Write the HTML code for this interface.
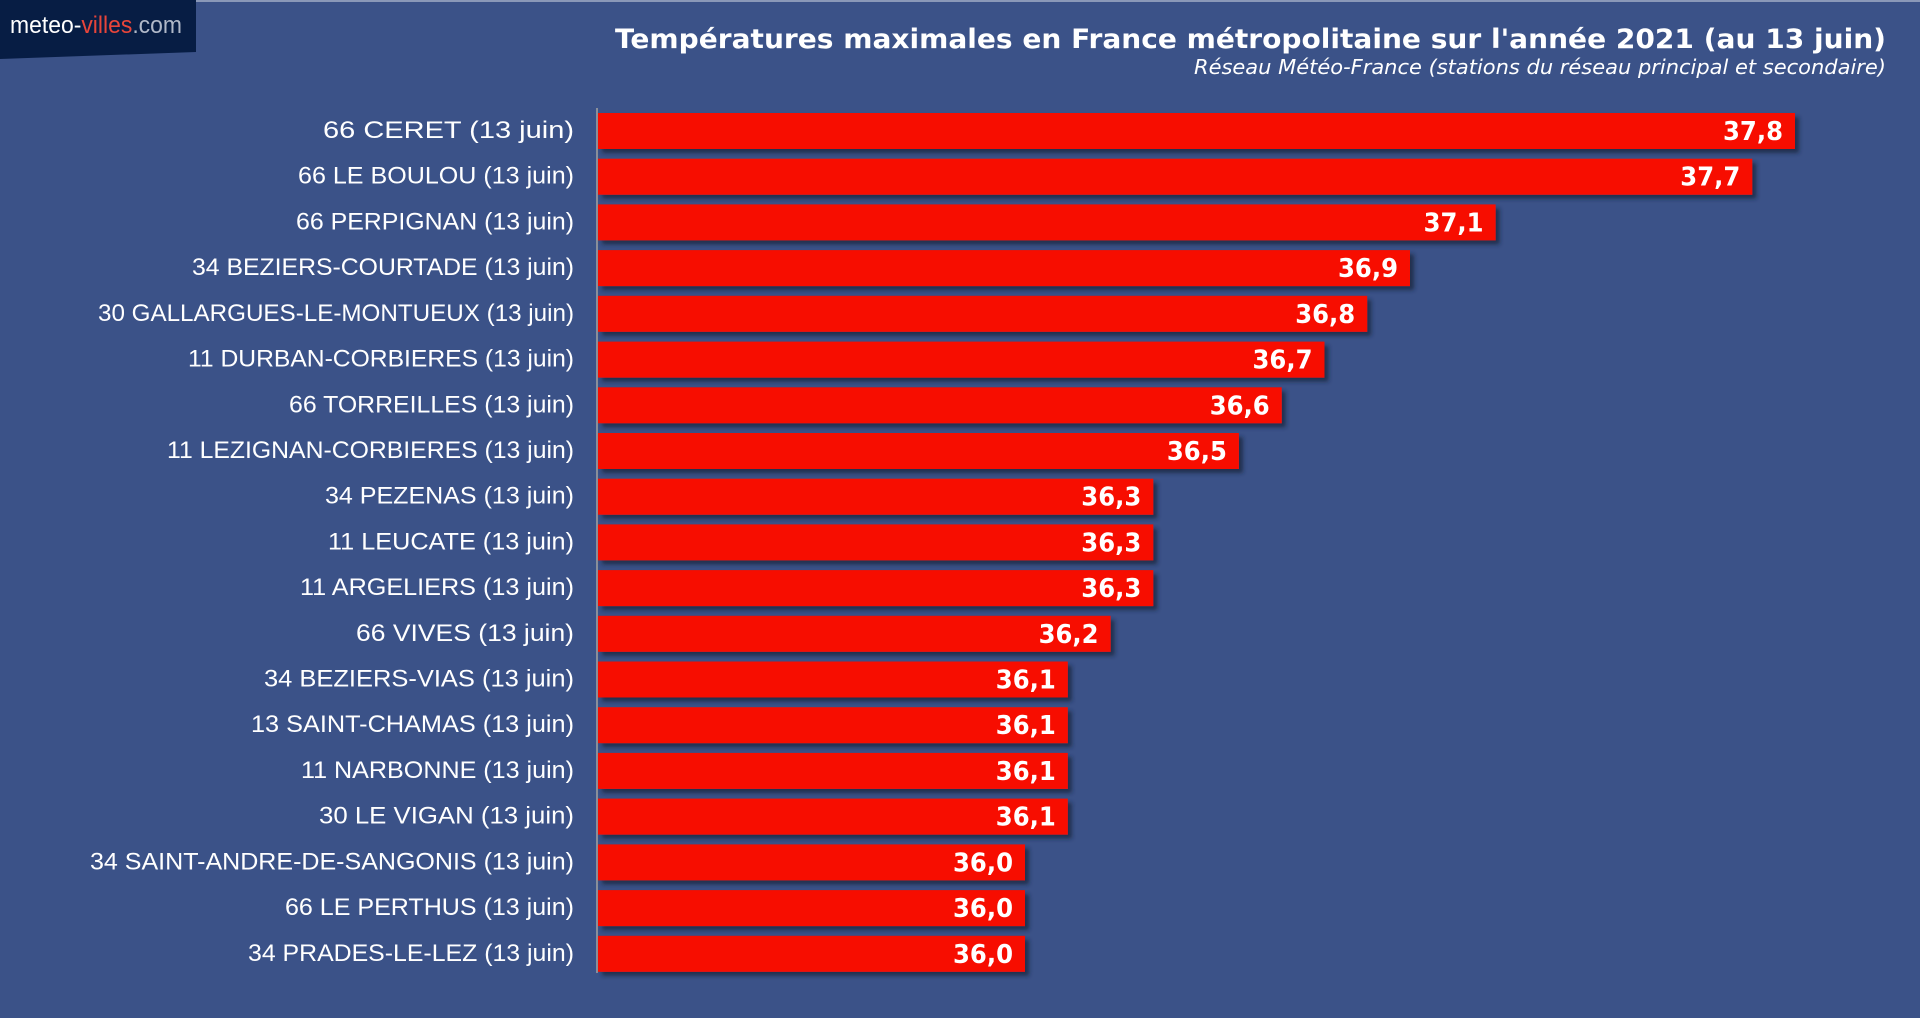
<!DOCTYPE html>
<html><head><meta charset="utf-8"><style>
html,body{margin:0;padding:0;background:#3b5288;}
svg{display:block}
</style></head><body>
<svg width="1920" height="1018" xmlns="http://www.w3.org/2000/svg">
<defs>
<filter id="sh" x="-5%" y="-20%" width="115%" height="160%"><feDropShadow dx="4" dy="4" stdDeviation="2" flood-color="#1a2540" flood-opacity="0.8"/></filter>
</defs>
<rect x="0" y="0" width="1920" height="1018" fill="#3b5288"/>
<rect x="0" y="0" width="1920" height="2" fill="#8a98b8"/>
<polygon points="0,0 196,0 196,52 0,59" fill="#071d44"/>
<text x="10" y="33" font-family="'Liberation Sans',sans-serif" font-size="24" fill="#ffffff" textLength="172" lengthAdjust="spacingAndGlyphs">meteo-<tspan fill="#e8453a">villes</tspan><tspan fill="#b0b8c8">.com</tspan></text>
<text x="1886" y="48" text-anchor="end" font-family="'DejaVu Sans',sans-serif" font-weight="bold" font-size="27" fill="#fff" textLength="1271" lengthAdjust="spacingAndGlyphs">Températures maximales en France métropolitaine sur l'année 2021 (au 13 juin)</text>
<text x="1886" y="74" text-anchor="end" font-family="'DejaVu Sans',sans-serif" font-style="italic" font-size="20" fill="#fff" textLength="692" lengthAdjust="spacingAndGlyphs">Réseau Météo-France (stations du réseau principal et secondaire)</text>
<rect x="596" y="108" width="2" height="865" fill="#8a8f9a"/>
<g id="bars" font-family="'Liberation Sans',sans-serif" fill="#fff"></g>
</svg>
<script>
var d=[["66 CERET (13 juin)",37.8,251],["66 LE BOULOU (13 juin)",37.7,276],["66 PERPIGNAN (13 juin)",37.1,278],["34 BEZIERS-COURTADE (13 juin)",36.9,382],["30 GALLARGUES-LE-MONTUEUX (13 juin)",36.8,476],["11 DURBAN-CORBIERES (13 juin)",36.7,386],["66 TORREILLES (13 juin)",36.6,285],["11 LEZIGNAN-CORBIERES (13 juin)",36.5,407],["34 PEZENAS (13 juin)",36.3,249],["11 LEUCATE (13 juin)",36.3,246],["11 ARGELIERS (13 juin)",36.3,274],["66 VIVES (13 juin)",36.2,218],["34 BEZIERS-VIAS (13 juin)",36.1,310],["13 SAINT-CHAMAS (13 juin)",36.1,323],["11 NARBONNE (13 juin)",36.1,273],["30 LE VIGAN (13 juin)",36.1,255],["34 SAINT-ANDRE-DE-SANGONIS (13 juin)",36.0,484],["66 LE PERTHUS (13 juin)",36.0,289],["34 PRADES-LE-LEZ (13 juin)",36.0,326]];
var s="";
d.forEach(function(r,i){var t=113+i*45.71;var e=1025+(r[1]-36)*427.8;
s+='<rect x="598" y="'+t.toFixed(1)+'" width="'+(e-598).toFixed(1)+'" height="36" fill="#f70f00" filter="url(#sh)"/>';
s+='<text x="574" y="'+(t+25).toFixed(1)+'" text-anchor="end" font-size="24" textLength="'+r[2]+'" lengthAdjust="spacingAndGlyphs">'+r[0]+'</text>';
s+='<text x="'+(e-12).toFixed(1)+'" y="'+(t+27).toFixed(1)+'" text-anchor="end" font-family="\'DejaVu Sans\',sans-serif" font-weight="bold" font-size="26" textLength="60" lengthAdjust="spacingAndGlyphs">'+r[1].toFixed(1).replace(".",",")+'</text>';});
document.getElementById("bars").innerHTML=s;
</script>
</body></html>
